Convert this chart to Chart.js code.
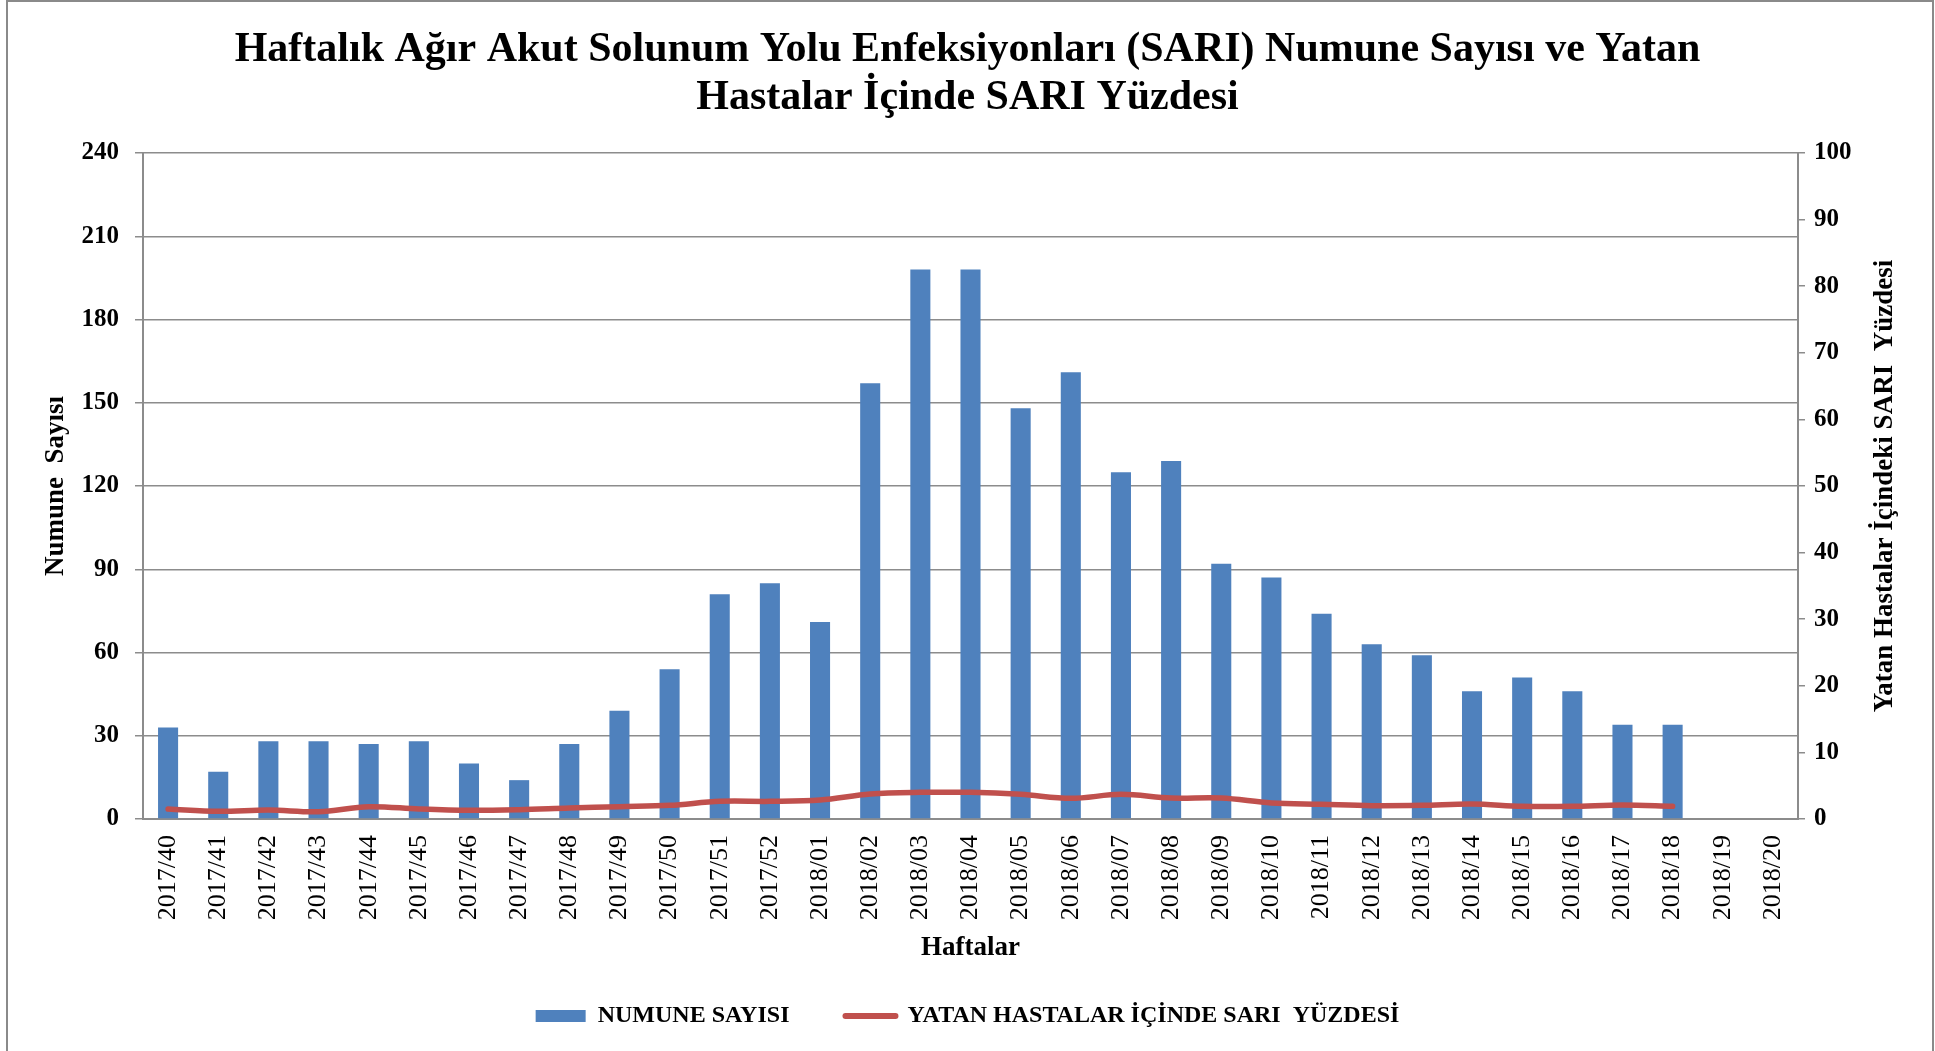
<!DOCTYPE html>
<html lang="tr">
<head>
<meta charset="utf-8">
<title>SARI Numune Sayısı</title>
<script src="https://cdn.jsdelivr.net/npm/chart.js@4/dist/chart.umd.min.js"></script>
<style>
  html, body { margin: 0; padding: 0; background: #fff; overflow: hidden; }
  #cerceve {
    position: absolute; left: 6px; top: 0; width: 1928px; height: 1100px;
    border: 2px solid #8a8a8a; box-sizing: border-box;
  }
  #kutu { position: absolute; left: 0; top: 0; width: 1935px; height: 1051px; }
</style>
</head>
<body>
<div id="cerceve"></div>
<div id="kutu"><canvas id="grafik"></canvas></div>

<script>
// Haftalar (x ekseni)
const haftalar = [
  "2017/40", "2017/41", "2017/42", "2017/43", "2017/44", "2017/45", "2017/46",
  "2017/47", "2017/48", "2017/49", "2017/50", "2017/51", "2017/52",
  "2018/01", "2018/02", "2018/03", "2018/04", "2018/05", "2018/06", "2018/07",
  "2018/08", "2018/09", "2018/10", "2018/11", "2018/12", "2018/13", "2018/14",
  "2018/15", "2018/16", "2018/17", "2018/18", "2018/19", "2018/20"
];

// Numune sayısı (sol eksen)
const numuneSayisi = [
  33, 17, 28, 28, 27, 28, 20, 14, 27, 39, 54, 81, 85,
  71, 157, 198, 198, 148, 161, 125, 129, 92, 87, 74, 63, 59, 46,
  51, 46, 34, 34, null, null
];

// Yatan hastalar içinde SARI yüzdesi (sağ eksen)
const sariYuzdesi = [
  1.5, 1.15, 1.35, 1.1, 1.85, 1.5, 1.3, 1.4, 1.65, 1.85, 2.05, 2.65, 2.65,
  2.85, 3.75, 4.0, 4.0, 3.7, 3.1, 3.7, 3.15, 3.15, 2.4, 2.2, 2.0, 2.05, 2.25,
  1.9, 1.9, 2.1, 1.9, null, null
];

const FONT = "'Liberation Serif', 'Times New Roman', serif";
const GRI = "#8c8c8c";

Chart.defaults.color = "#000";
Chart.defaults.font.family = FONT;

/* Sağ eksen başlığı aşağıdan yukarı okunuyor, Chart.js ise tersine çiziyor */
const sagBaslik = {
  id: "sagBaslik",
  afterDraw(chart) {
    const s = chart.scales.y1;
    const a = chart.chartArea;
    const ctx = chart.ctx;
    ctx.save();
    ctx.translate(s.right - 50, (a.top + a.bottom) / 2);
    ctx.rotate(-Math.PI / 2);
    ctx.font = "bold 27px " + FONT;
    ctx.fillStyle = "#000";
    ctx.textAlign = "center";
    ctx.textBaseline = "middle";
    ctx.fillText(s.options.title.text, 0, 0);
    ctx.restore();
  }
};

new Chart(document.getElementById("grafik"), {
  data: {
    labels: haftalar,
    datasets: [
      {
        type: "bar",
        label: "NUMUNE SAYISI",
        data: numuneSayisi,
        backgroundColor: "#4f81bd",
        barPercentage: 0.4,
        categoryPercentage: 1,
        yAxisID: "y",
        order: 2
      },
      {
        type: "line",
        label: "YATAN HASTALAR İÇİNDE SARI  YÜZDESİ",
        data: sariYuzdesi,
        borderColor: "#c0504d",
        backgroundColor: "#c0504d",
        borderWidth: 5.5,
        pointRadius: 0,
        tension: 0.35,
        borderCapStyle: "round",
        yAxisID: "y1",
        order: 1
      }
    ]
  },
  options: {
    responsive: true,
    maintainAspectRatio: false,
    animation: false,
    layout: { padding: { top: 0, left: 0, right: 0, bottom: 13 } },
    plugins: {
      title: {
        display: true,
        text: [
          "Haftalık Ağır Akut Solunum Yolu Enfeksiyonları (SARI) Numune Sayısı ve Yatan",
          "Hastalar İçinde SARI Yüzdesi"
        ],
        font: { size: 42, weight: "bold", family: FONT, lineHeight: 1.15 },
        padding: { top: 26, bottom: 30.4 }
      },
      legend: {
        position: "bottom",
        labels: {
          usePointStyle: true,
          pointStyleWidth: 50,
          boxHeight: 12,
          padding: 56,
          font: { size: 24, weight: "bold", family: FONT },
          generateLabels: chart => chart.data.datasets.map((ds, i) => ({
            text: ds.label,
            datasetIndex: i,
            fillStyle: ds.backgroundColor,
            strokeStyle: ds.type === "line" ? ds.borderColor : ds.backgroundColor,
            lineWidth: ds.type === "line" ? 6 : 0,
            lineCap: "round",
            pointStyle: ds.type === "line" ? "line" : "rect",
            fontColor: "#000",
            hidden: false
          }))
        }
      },
      tooltip: { enabled: false }
    },
    scales: {
      x: {
        grid: { display: false, drawTicks: false },
        border: { color: GRI, width: 2 },
        ticks: {
          minRotation: 90, maxRotation: 90, padding: 16,
          font: { size: 26, family: FONT }
        },
        title: {
          display: true,
          text: "Haftalar",
          font: { size: 27, weight: "bold", family: FONT },
          padding: { top: 0, bottom: -16 }
        },
        afterFit: s => { s.height = 129; }
      },
      y: {
        position: "left",
        min: 0, max: 240,
        grid: { color: GRI, lineWidth: 1.5, tickLength: 8 },
        border: { color: GRI, width: 2 },
        ticks: {
          stepSize: 30, padding: 16,
          font: { size: 25, weight: "bold", family: FONT }
        },
        title: {
          display: true,
          text: "Numune  Sayısı",
          font: { size: 27, weight: "bold", family: FONT },
          padding: { top: 40, bottom: 0 }
        },
        afterFit: s => { s.width = 143; }
      },
      y1: {
        position: "right",
        min: 0, max: 100,
        grid: { drawOnChartArea: false, color: GRI, lineWidth: 1.5, tickLength: 7 },
        border: { color: GRI, width: 2 },
        ticks: {
          stepSize: 10, padding: 9,
          font: { size: 25, weight: "bold", family: FONT }
        },
        title: { display: false, text: "Yatan Hastalar İçindeki SARI  Yüzdesi" },
        afterFit: s => { s.width = 137; }
      }
    }
  },
  plugins: [sagBaslik]
});
</script>
</body>
</html>
